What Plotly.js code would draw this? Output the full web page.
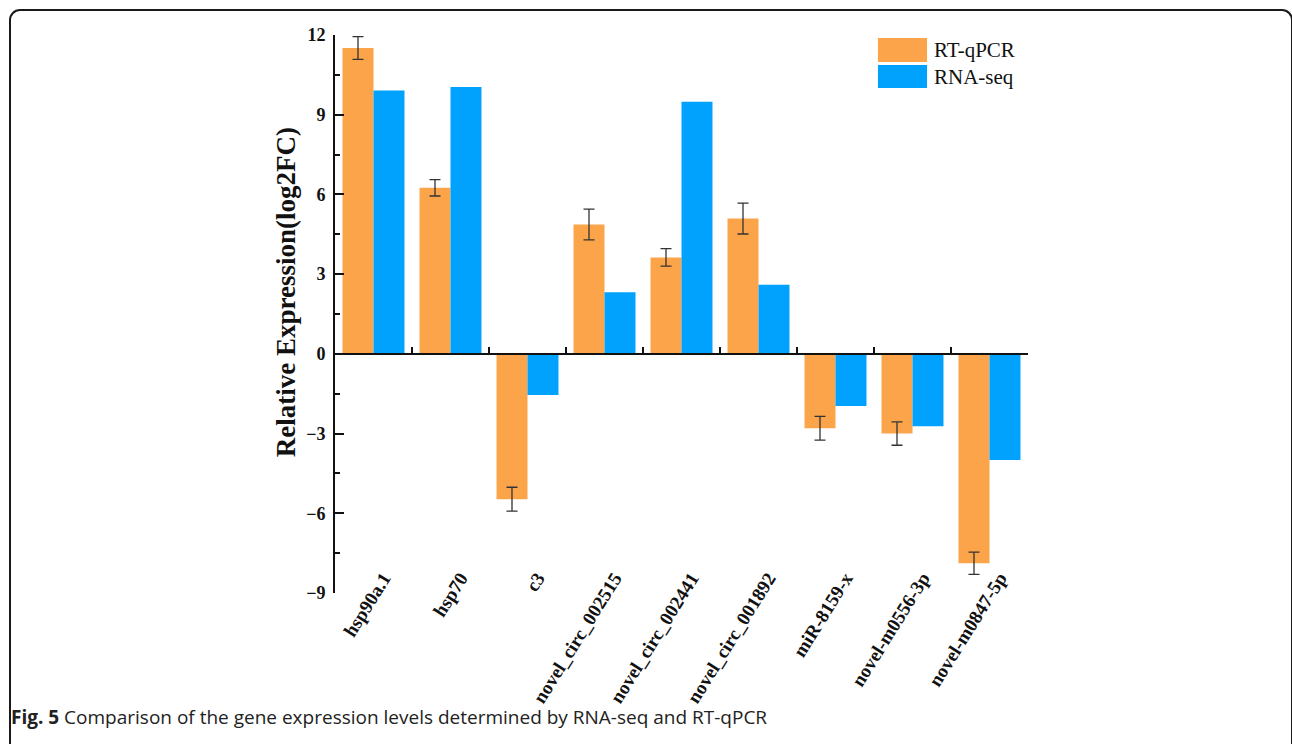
<!DOCTYPE html>
<html>
<head>
<meta charset="utf-8">
<script src="https://cdn.plot.ly/plotly-3.0.1.min.js"></script>
<style>
  html, body { margin: 0; padding: 0; background: #ffffff; overflow: hidden; }
  #wrap { position: relative; width: 1292px; height: 744px; }
  #chart { position: absolute; left: 0; top: 0; width: 1292px; height: 744px; }
  #frame { position: absolute; left: 9px; top: 9px; width: 1280px; height: 820px;
           border: 2px solid #1a1a1a; border-radius: 11px; pointer-events: none; }
  #caption { position: absolute; left: 11px; top: 704px; font-family: "Open Sans", sans-serif;
             font-size: 19px; color: #222; white-space: nowrap; }
</style>
</head>
<body>
<div id="wrap">
  <div id="chart"></div>
  <div id="frame"></div>
  <div id="caption"><b>Fig. 5</b> Comparison of the gene expression levels determined by RNA-seq and RT-qPCR</div>
</div>
<script>
const categories = ['hsp90a.1', 'hsp70', 'c3', 'novel_circ_002515', 'novel_circ_002441',
                    'novel_circ_001892', 'miR-8159-x', 'novel-m0556-3p', 'novel-m0847-5p'];
const rtqpcr    = [11.51, 6.25, -5.47, 4.87, 3.63, 5.09, -2.80, -3.00, -7.88];
const rtqpcrErr = [0.43, 0.31, 0.45, 0.58, 0.33, 0.58, 0.45, 0.44, 0.42];
const rnaseq    = [9.91, 10.04, -1.55, 2.32, 9.49, 2.60, -1.96, -2.72, -3.99];
const seriesNames = ['RT-qPCR', 'RNA-seq'];
const yTicks = [-9, -6, -3, 0, 3, 6, 9, 12];
const yTitle = 'Relative Expression(log2FC)';

const ORANGE = '#FCA44A';
const BLUE = '#00A2FE';
const serif = 'Liberation Serif, Times New Roman, serif';

const traces = [
  {
    type: 'bar', name: seriesNames[0], x: categories, y: rtqpcr,
    marker: { color: ORANGE, line: { width: 0 } },
    error_y: { type: 'data', array: rtqpcrErr, visible: true, color: '#333333', thickness: 1.3, width: 5.5 },
    xaxis: 'x', yaxis: 'y', showlegend: false, hoverinfo: 'x+y'
  },
  {
    type: 'bar', name: seriesNames[1], x: categories, y: rnaseq,
    marker: { color: BLUE, line: { width: 0 } },
    xaxis: 'x', yaxis: 'y', showlegend: false, hoverinfo: 'x+y'
  },
  {
    // invisible helper so the zero-line axis (x2) gets drawn
    type: 'scatter', mode: 'markers', x: categories, y: categories.map(() => null),
    xaxis: 'x2', yaxis: 'y', showlegend: false, hoverinfo: 'skip',
    marker: { opacity: 0 }
  }
];

const yMin = -9, yMax = 12;

const layout = {
  width: 1292, height: 744,
  margin: { l: 335, r: 264, t: 35, b: 151, pad: 0 },
  paper_bgcolor: 'rgba(0,0,0,0)',
  plot_bgcolor: 'rgba(0,0,0,0)',
  barmode: 'group',
  bargap: 0.195,
  bargroupgap: 0,
  showlegend: false,
  xaxis: {
    type: 'category',
    categoryorder: 'array', categoryarray: categories,
    range: [-0.5, 8.5],
    anchor: 'free', position: 0.055,
    showline: false, ticks: '', showgrid: false, zeroline: false,
    tickmode: 'array', tickvals: categories,
    ticktext: categories.map(c => '<b>' + c + '</b>'),
    tickangle: -58,
    ticklabelshift: 10,
    tickfont: { family: serif, size: 19, color: '#111' }
  },
  xaxis2: {
    overlaying: 'x', type: 'category',
    categoryorder: 'array', categoryarray: categories,
    range: [-0.5, 8.5],
    anchor: 'free', position: (0 - yMin) / (yMax - yMin),
    showline: true, linecolor: '#111', linewidth: 2.5,
    ticks: 'inside', tickson: 'boundaries', ticklen: 6, tickwidth: 2, tickcolor: '#111',
    showticklabels: false, showgrid: false, zeroline: false
  },
  yaxis: {
    range: [yMin, yMax],
    tickmode: 'array', tickvals: yTicks,
    showline: true, linecolor: '#111', linewidth: 2,
    ticks: 'inside', ticklen: 9, tickwidth: 2, tickcolor: '#111',
    minor: { ticks: 'inside', ticklen: 5, tickwidth: 2, tickcolor: '#111', dtick: 1.5, tick0: 0, showgrid: false },
    showgrid: false, zeroline: false,
    tickfont: { family: serif, size: 18, color: '#111', weight: 'bold' },
    ticklabelstandoff: 4
  },
  shapes: [
    { type: 'rect', xref: 'paper', yref: 'paper', x0: 0.7835, x1: 0.8543, y0: 0.9516, y1: 0.9946,
      fillcolor: ORANGE, line: { width: 0 } },
    { type: 'rect', xref: 'paper', yref: 'paper', x0: 0.7835, x1: 0.8543, y0: 0.905, y1: 0.9462,
      fillcolor: BLUE, line: { width: 0 } }
  ],
  annotations: [
    { xref: 'paper', yref: 'paper', x: 0.8615, y: 0.9731, xanchor: 'left', yanchor: 'middle',
      text: seriesNames[0], showarrow: false, font: { family: serif, size: 21, color: '#111' } },
    { xref: 'paper', yref: 'paper', x: 0.8615, y: 0.9247, xanchor: 'left', yanchor: 'middle',
      text: seriesNames[1], showarrow: false, font: { family: serif, size: 21, color: '#111' } },
    { xref: 'paper', yref: 'paper', x: -0.0707, y: 0.539, xanchor: 'center', yanchor: 'middle',
      textangle: -90, text: '<b>' + yTitle + '</b>', showarrow: false,
      font: { family: serif, size: 27, color: '#111' } }
  ]
};

Plotly.newPlot('chart', traces, layout, { displayModeBar: false, staticPlot: true });
</script>
</body>
</html>
